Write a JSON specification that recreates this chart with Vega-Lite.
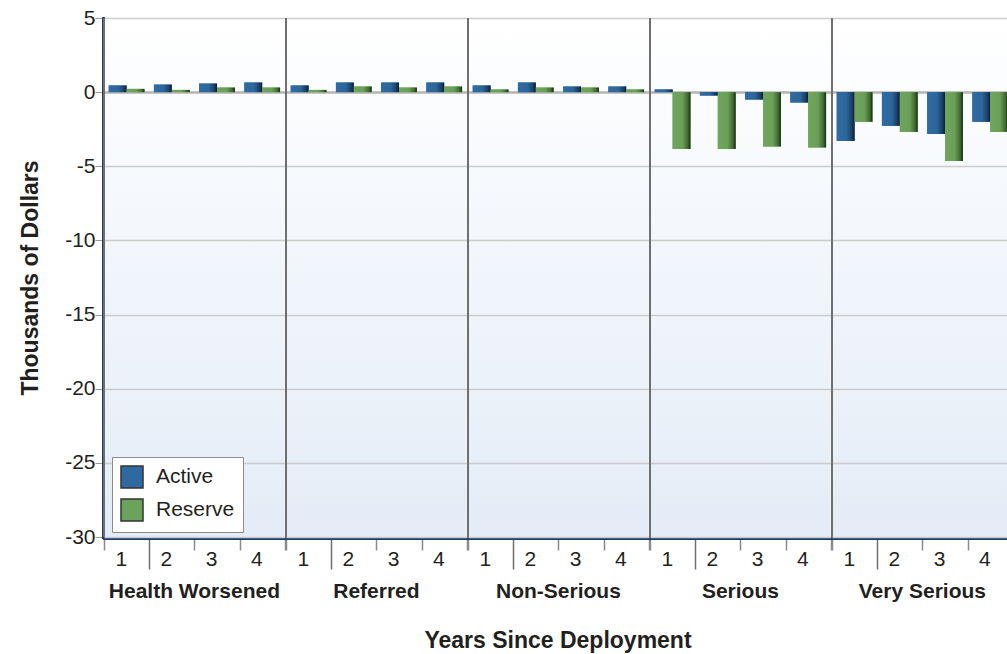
{
  "$schema": "https://vega.github.io/schema/vega-lite/v6.json",
  "padding": {"left": 19, "top": 7, "right": 0, "bottom": 0},
  "background": "white",
  "data": {"values": [
    {"cat": "Health Worsened", "year": "1", "type": "Active", "value": 0.45},
    {"cat": "Health Worsened", "year": "1", "type": "Reserve", "value": 0.22},
    {"cat": "Health Worsened", "year": "2", "type": "Active", "value": 0.51},
    {"cat": "Health Worsened", "year": "2", "type": "Reserve", "value": 0.15},
    {"cat": "Health Worsened", "year": "3", "type": "Active", "value": 0.58},
    {"cat": "Health Worsened", "year": "3", "type": "Reserve", "value": 0.31},
    {"cat": "Health Worsened", "year": "4", "type": "Active", "value": 0.65},
    {"cat": "Health Worsened", "year": "4", "type": "Reserve", "value": 0.31},
    {"cat": "Referred", "year": "1", "type": "Active", "value": 0.45},
    {"cat": "Referred", "year": "1", "type": "Reserve", "value": 0.15},
    {"cat": "Referred", "year": "2", "type": "Active", "value": 0.65},
    {"cat": "Referred", "year": "2", "type": "Reserve", "value": 0.38},
    {"cat": "Referred", "year": "3", "type": "Active", "value": 0.65},
    {"cat": "Referred", "year": "3", "type": "Reserve", "value": 0.31},
    {"cat": "Referred", "year": "4", "type": "Active", "value": 0.65},
    {"cat": "Referred", "year": "4", "type": "Reserve", "value": 0.38},
    {"cat": "Non-Serious", "year": "1", "type": "Active", "value": 0.45},
    {"cat": "Non-Serious", "year": "1", "type": "Reserve", "value": 0.18},
    {"cat": "Non-Serious", "year": "2", "type": "Active", "value": 0.65},
    {"cat": "Non-Serious", "year": "2", "type": "Reserve", "value": 0.31},
    {"cat": "Non-Serious", "year": "3", "type": "Active", "value": 0.38},
    {"cat": "Non-Serious", "year": "3", "type": "Reserve", "value": 0.31},
    {"cat": "Non-Serious", "year": "4", "type": "Active", "value": 0.38},
    {"cat": "Non-Serious", "year": "4", "type": "Reserve", "value": 0.18},
    {"cat": "Serious", "year": "1", "type": "Active", "value": 0.18},
    {"cat": "Serious", "year": "1", "type": "Reserve", "value": -3.83},
    {"cat": "Serious", "year": "2", "type": "Active", "value": -0.23},
    {"cat": "Serious", "year": "2", "type": "Reserve", "value": -3.83},
    {"cat": "Serious", "year": "3", "type": "Active", "value": -0.5},
    {"cat": "Serious", "year": "3", "type": "Reserve", "value": -3.67},
    {"cat": "Serious", "year": "4", "type": "Active", "value": -0.7},
    {"cat": "Serious", "year": "4", "type": "Reserve", "value": -3.74},
    {"cat": "Very Serious", "year": "1", "type": "Active", "value": -3.29},
    {"cat": "Very Serious", "year": "1", "type": "Reserve", "value": -2.0},
    {"cat": "Very Serious", "year": "2", "type": "Active", "value": -2.27},
    {"cat": "Very Serious", "year": "2", "type": "Reserve", "value": -2.68},
    {"cat": "Very Serious", "year": "3", "type": "Active", "value": -2.82},
    {"cat": "Very Serious", "year": "3", "type": "Reserve", "value": -4.64},
    {"cat": "Very Serious", "year": "4", "type": "Active", "value": -2.0},
    {"cat": "Very Serious", "year": "4", "type": "Reserve", "value": -2.68}
  ]},
  "facet": {
    "column": {
      "field": "cat",
      "type": "nominal",
      "sort": ["Health Worsened", "Referred", "Non-Serious", "Serious", "Very Serious"],
      "header": {
        "labelOrient": "bottom",
        "titleOrient": "bottom",
        "labelFont": "Liberation Sans",
        "labelFontSize": 21,
        "labelFontWeight": "bold",
        "labelColor": "#231f20",
        "labelPadding": 11,
        "title": "Years Since Deployment",
        "titleFont": "Liberation Sans",
        "titleFontSize": 23,
        "titleFontWeight": "bold",
        "titleColor": "#231f20",
        "titlePadding": 18
      }
    }
  },
  "spacing": 0,
  "spec": {
    "width": 180.8,
    "height": 519,
    "layer": [
      {
        "mark": {"type": "rule", "color": "#6f6f6f", "strokeWidth": 1.5},
        "encoding": {
          "x": {"datum": "1", "bandPosition": 0, "type": "nominal"},
          "y": {"datum": 5},
          "y2": {"datum": -30}
        }
      },
      {
        "mark": {"type": "bar"},
        "encoding": {
          "x": {
            "field": "year", "type": "nominal",
            "scale": {"paddingInner": 0, "paddingOuter": 0},
            "axis": {
              "title": null, "labelAngle": 0, "tickBand": "extent",
              "domainColor": "#1c3d6b", "domainWidth": 3,
              "tickColor": {"condition": {"test": "datum.value === '1'", "value": "#6f6f6f"}, "value": "#8a8a8a"},
              "tickWidth": 1.5,
              "tickSize": {"condition": {"test": "datum.value === '1'", "value": 31}, "value": 12},
              "labelFont": "Liberation Sans", "labelFontSize": 21, "labelColor": "#231f20",
              "labelPadding": {"condition": {"test": "datum.value === '1'", "value": -10}, "value": 9}
            }
          },
          "xOffset": {"field": "type", "type": "nominal", "scale": {"paddingOuter": 0.264, "paddingInner": 0}},
          "y": {
            "field": "value", "type": "quantitative",
            "scale": {"domain": [-30, 5], "nice": false, "zero": false},
            "axis": {
              "title": "Thousands of Dollars",
              "titleFont": "Liberation Sans", "titleFontSize": 23, "titleFontWeight": "bold", "titleColor": "#231f20",
              "titlePadding": 22,
              "values": [5, 0, -5, -10, -15, -20, -25, -30],
              "labelExpr": "toString(datum.value)",
              "labelFont": "Liberation Sans", "labelFontSize": 21, "labelColor": "#231f20", "labelPadding": 0,
              "domainColor": "#1c3d6b", "domainWidth": 3,
              "tickColor": "#9a9a9a", "tickSize": 8, "tickWidth": 1,
              "grid": true,
              "gridColor": {"condition": {"test": "datum.value === 0", "value": "#b5b5b5"}, "value": "#cccccc"},
              "gridWidth": {"condition": {"test": "datum.value === 0", "value": 2.5}, "value": 1.3}
            }
          },
          "color": {
            "field": "type", "type": "nominal",
            "scale": {"domain": ["Active", "Reserve"], "range": ["#2e6aa1", "#6ca35a"]},
            "legend": {
              "title": null, "orient": "none", "legendX": 8, "legendY": 439,
              "symbolType": "square", "symbolSize": 484, "symbolStrokeColor": "#333333", "symbolStrokeWidth": 1.5,
              "symbolOpacity": 1,
              "labelFont": "Liberation Sans", "labelFontSize": 21, "labelColor": "#231f20", "labelOffset": 12,
              "rowPadding": 5, "padding": 8,
              "strokeColor": "#8c8c8c", "fillColor": "#ffffff"
            }
          }
        }
      },
      {
        "mark": {"type": "bar"},
        "encoding": {
          "x": {"field": "year", "type": "nominal"},
          "xOffset": {"field": "type", "type": "nominal"},
          "y": {"field": "value", "type": "quantitative"},
          "color": {
            "condition": {
              "test": "datum.type === 'Active'",
              "value": {"gradient": "linear", "x1": 0, "y1": 0, "x2": 1, "y2": 0,
                "stops": [{"offset": 0, "color": "#2f6ca3"}, {"offset": 0.55, "color": "#2c6699"}, {"offset": 0.85, "color": "#1a3f66"}, {"offset": 1, "color": "#0a1c33"}]}
            },
            "value": {"gradient": "linear", "x1": 0, "y1": 0, "x2": 1, "y2": 0,
              "stops": [{"offset": 0, "color": "#70a55d"}, {"offset": 0.55, "color": "#6a9f57"}, {"offset": 0.85, "color": "#3f6a32"}, {"offset": 1, "color": "#132b0c"}]}
          }
        }
      }
    ]
  },
  "resolve": {"scale": {"x": "shared"}},
  "config": {
    "view": {
      "stroke": null,
      "fill": {"gradient": "linear", "x1": 0, "y1": 0, "x2": 0, "y2": 1,
        "stops": [{"offset": 0, "color": "#ffffff"}, {"offset": 1, "color": "#e3ecf7"}]}
    },
    "axis": {"domainCap": "square"}
  }
}
